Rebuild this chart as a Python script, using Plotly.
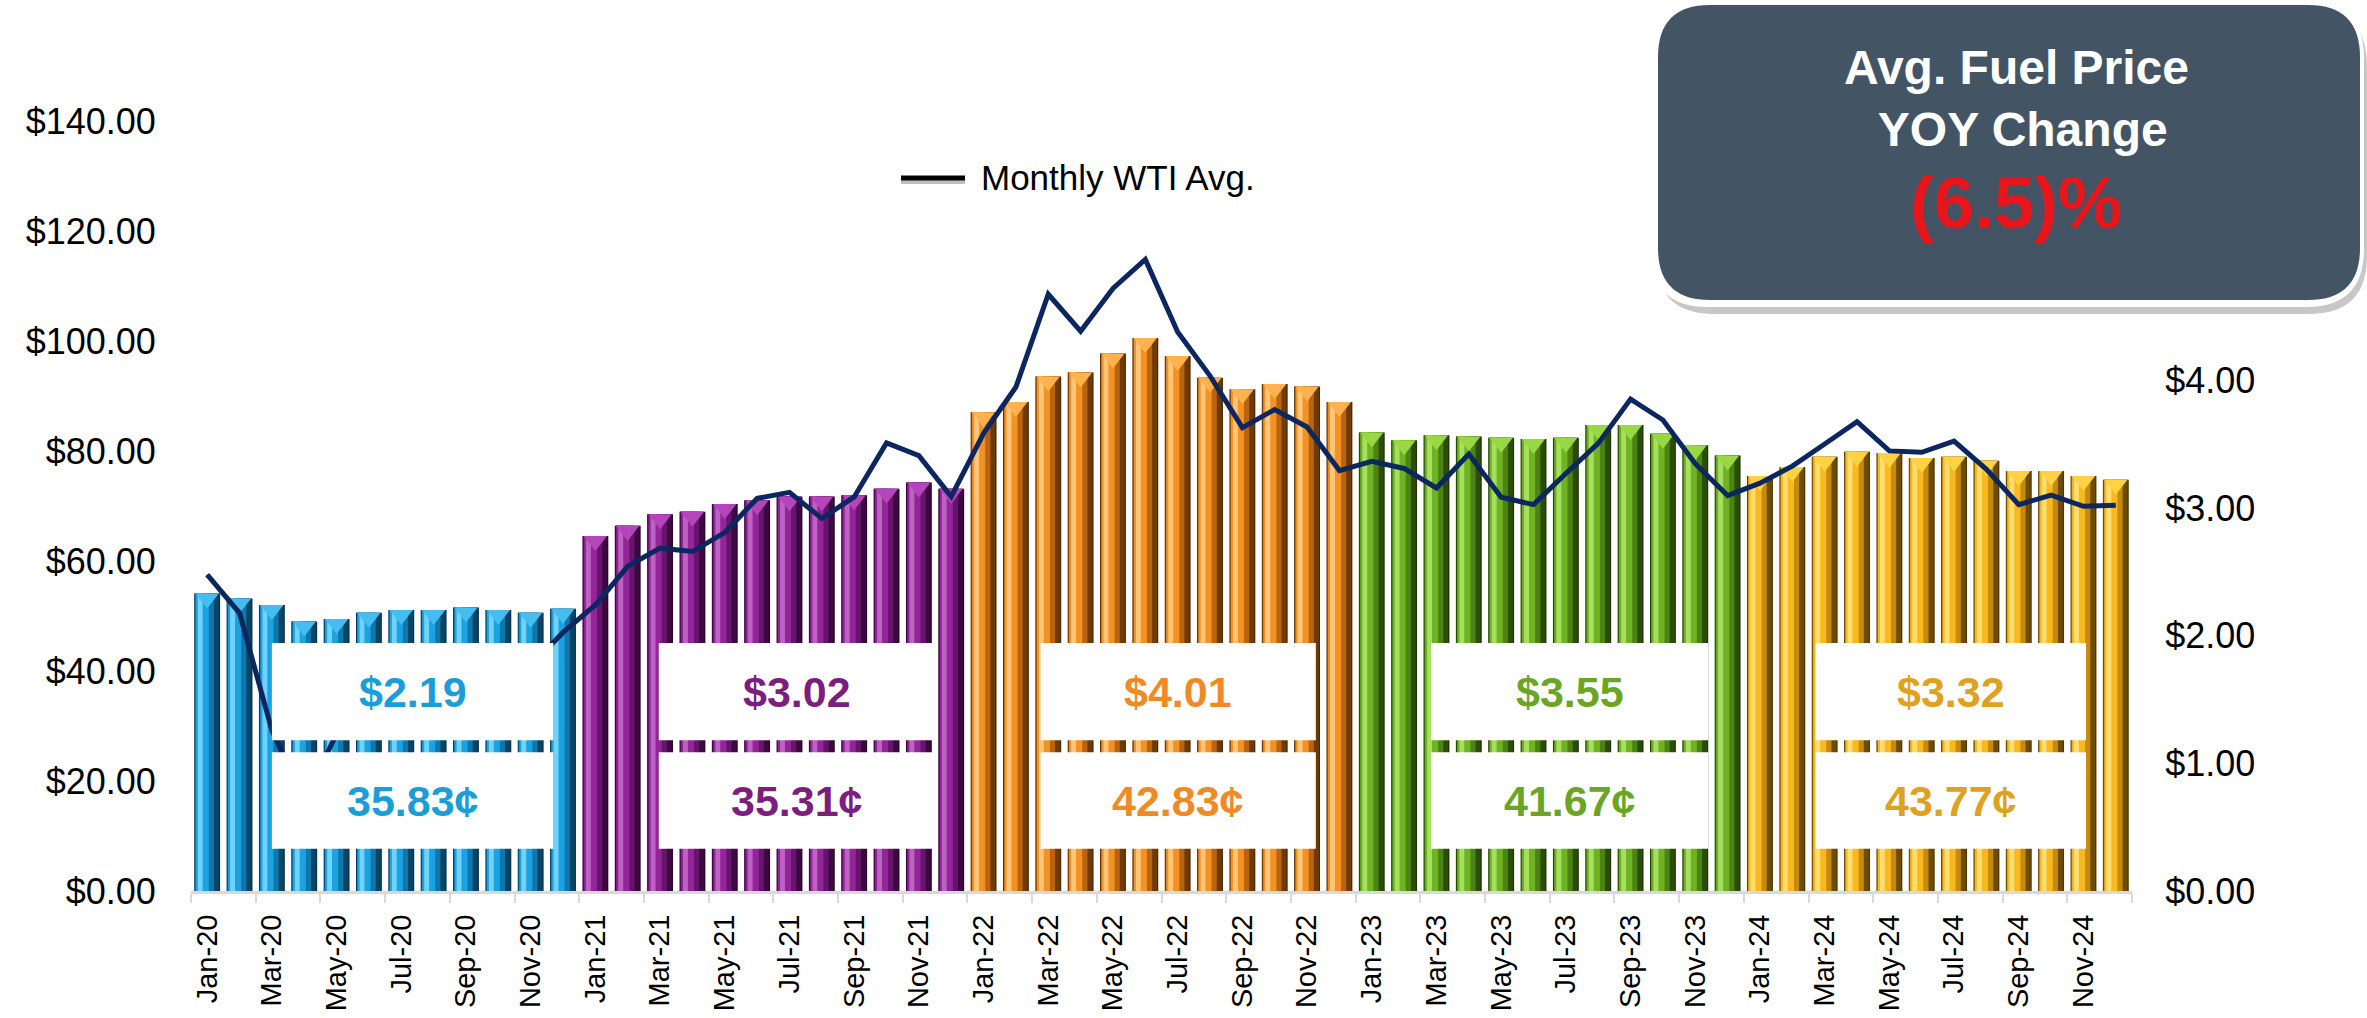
import plotly.graph_objects as go

# ---------------- data ----------------
month_names = ["Jan", "Feb", "Mar", "Apr", "May", "Jun", "Jul", "Aug", "Sep", "Oct", "Nov", "Dec"]
years = ["20", "21", "22", "23", "24"]

fuel_2020 = [2.33, 2.29, 2.24, 2.11, 2.13, 2.18, 2.20, 2.20, 2.22, 2.20, 2.18, 2.21]
fuel_2021 = [2.78, 2.86, 2.95, 2.97, 3.03, 3.06, 3.09, 3.09, 3.10, 3.15, 3.20, 3.15]
fuel_2022 = [3.75, 3.83, 4.03, 4.06, 4.21, 4.33, 4.19, 4.02, 3.93, 3.97, 3.95, 3.83]
fuel_2023 = [3.59, 3.53, 3.57, 3.56, 3.55, 3.54, 3.55, 3.65, 3.65, 3.58, 3.49, 3.41]
fuel_2024 = [3.25, 3.32, 3.40, 3.44, 3.43, 3.39, 3.40, 3.37, 3.29, 3.29, 3.25, 3.22]

wti_2020 = [57.52, 50.54, 29.21, 16.55, 28.56, 38.31, 40.71, 42.34, 39.63, 39.40, 40.94, 47.02]
wti_2021 = [52.00, 59.04, 62.33, 61.72, 65.17, 71.38, 72.49, 67.73, 71.65, 81.48, 79.15, 71.71]
wti_2022 = [83.22, 91.64, 108.50, 101.78, 109.55, 114.84, 101.62, 93.67, 84.26, 87.55, 84.37, 76.44]
wti_2023 = [78.12, 76.83, 73.28, 79.45, 71.58, 70.25, 75.92, 81.39, 89.43, 85.64, 77.69, 71.90]
wti_2024 = [74.15, 77.25, 81.28, 85.35, 80.02, 79.77, 81.80, 76.68, 70.24, 71.99, 69.95, 70.12]

year_avg_price = ["$2.19", "$3.02", "$4.01", "$3.55", "$3.32"]
year_avg_cents = ["35.83¢", "35.31¢", "42.83¢", "41.67¢", "43.77¢"]

left_tick_values = [0, 20, 40, 60, 80, 100, 120, 140]
right_tick_values = [0, 1, 2, 3, 4]

yoy_title = "Avg. Fuel Price<br> YOY Change"
yoy_value = "(6.5)%"
legend_name = "Monthly WTI Avg."

# ---------------- derived ----------------
fuel_by_year = [fuel_2020, fuel_2021, fuel_2022, fuel_2023, fuel_2024]
wti_by_year = [wti_2020, wti_2021, wti_2022, wti_2023, wti_2024]
labels = [f"{m}-{y}" for y in years for m in month_names]
fuel = [v for ys in fuel_by_year for v in ys]
wti = [v for ys in wti_by_year for v in ys]
x = list(range(len(labels)))
year_idx = [i // 12 for i in x]

# ---------------- styles ----------------
FONT = "Arial, 'Liberation Sans', sans-serif"
palettes = [
    dict(edge="#06334D", dark="#0A4565", mid="#0F77AB", main="#1CA2E0", hl="#6FD2F6", cap="#45BDF0", text="#1B9DD9"),
    dict(edge="#2C062F", dark="#3C0940", mid="#66146C", main="#93249A", hl="#BC62C1", cap="#B545BA", text="#7B1E7E"),
    dict(edge="#4F2A04", dark="#6E3B06", mid="#BA640E", main="#F39224", hl="#FFC67A", cap="#FFB24E", text="#F08A24"),
    dict(edge="#1F3705", dark="#2C4D07", mid="#4C8413", main="#6FB224", hl="#A6DE60", cap="#99D842", text="#6BA525"),
    dict(edge="#4F3703", dark="#6E4C05", mid="#C68A0C", main="#F8B920", hl="#FFDD70", cap="#FFD243", text="#DFA11E"),
]

W, H = 2367, 1018
PL, PR, PT, PB = 191, 2132, 121, 891  # plot area in pixels
Y_RIGHT_MAX = 6.03
Y_LEFT_MAX = 140


def px2paper(px, py):
    return (px - PL) / (PR - PL), (PB - py) / (PB - PT)


def rrect_path(x0, y0, x1, y1, r):
    def P(a, b):
        u, v = px2paper(a, b)
        return f"{u:.5f},{v:.5f}"
    pts = [
        f"M{P(x0 + r, y0)}", f"L{P(x1 - r, y0)}", f"Q{P(x1, y0)} {P(x1, y0 + r)}",
        f"L{P(x1, y1 - r)}", f"Q{P(x1, y1)} {P(x1 - r, y1)}",
        f"L{P(x0 + r, y1)}", f"Q{P(x0, y1)} {P(x0, y1 - r)}",
        f"L{P(x0, y0 + r)}", f"Q{P(x0, y0)} {P(x0 + r, y0)}", "Z",
    ]
    return " ".join(pts)


fig = go.Figure()

# bars with layered shading (cylinder look)
layers = [(-0.40, 0.80, "edge"), (-0.38, 0.74, "dark"), (-0.37, 0.58, "mid"),
          (-0.35, 0.40, "main"), (-0.29, 0.15, "hl")]
for off, wid, key in layers:
    fig.add_trace(go.Bar(
        x=x, y=fuel, width=wid, offset=off,
        marker=dict(color=[palettes[k][key] for k in year_idx], line=dict(width=0)),
        yaxis="y", showlegend=False, hoverinfo="skip",
    ))

# triangular bevel caps at bar tops
cap_size = 20
cap_shift = (cap_size / 4) / ((PB - PT) / Y_RIGHT_MAX)
fig.add_trace(go.Scatter(
    x=x, y=[v - cap_shift for v in fuel], mode="markers",
    marker=dict(symbol="triangle-down", size=cap_size,
                color=[palettes[k]["cap"] for k in year_idx], line=dict(width=0)),
    yaxis="y", showlegend=False, hoverinfo="skip",
))

# WTI line on left axis (overlaying axis so it draws above bars)
fig.add_trace(go.Scatter(
    x=x, y=wti, mode="lines", name=legend_name,
    line=dict(color="#0C2660", width=5),
    yaxis="y2", showlegend=False,
))

shapes = []
annotations = []

# white label boxes per year
box_x = [(2.0, 10.7), (13.96, 22.48), (25.76, 34.27), (37.83, 46.40), (49.72, 58.08)]
top_rect = (1.18, 1.943)
bot_rect = (0.331, 1.086)
for k, (bx0, bx1) in enumerate(box_x):
    for (ry0, ry1) in (top_rect, bot_rect):
        shapes.append(dict(type="rect", xref="x", yref="y", x0=bx0, x1=bx1, y0=ry0, y1=ry1,
                           fillcolor="white", line=dict(width=0), layer="above"))
    cx = (bx0 + bx1) / 2
    annotations.append(dict(x=cx, y=sum(top_rect) / 2, xref="x", yref="y", text=f"<b>{year_avg_price[k]}</b>",
                            showarrow=False, font=dict(family=FONT, size=43, color=palettes[k]["text"])))
    annotations.append(dict(x=cx, y=sum(bot_rect) / 2, xref="x", yref="y", text=f"<b>{year_avg_cents[k]}</b>",
                            showarrow=False, font=dict(family=FONT, size=43, color=palettes[k]["text"])))

# YOY callout box (shadow, white border, dark fill)
shapes.append(dict(type="path", xref="paper", yref="paper", path=rrect_path(1656, 8, 2367, 314, 58),
                   fillcolor="rgba(0,0,0,0.22)", line=dict(width=0), layer="above"))
shapes.append(dict(type="path", xref="paper", yref="paper", path=rrect_path(1650, 0, 2364, 307, 58),
                   fillcolor="white", line=dict(width=0), layer="above"))
shapes.append(dict(type="path", xref="paper", yref="paper", path=rrect_path(1658, 5, 2360, 300, 52),
                   fillcolor="#435565", line=dict(width=0), layer="above"))
tx, ty = px2paper(2016, 98)
annotations.append(dict(x=tx, y=ty, xref="paper", yref="paper", text=f"<b>{yoy_title}</b>", showarrow=False,
                        xanchor="center", yanchor="middle", align="center",
                        font=dict(family=FONT, size=48, color="white")))
vx, vy = px2paper(2016, 203)
annotations.append(dict(x=vx, y=vy, xref="paper", yref="paper", text=f"<b>{yoy_value}</b>", showarrow=False,
                        xanchor="center", yanchor="middle",
                        font=dict(family=FONT, size=72, color="#E8161B")))

# legend (manual)
lx0, ly = px2paper(901, 178)
lx1, _ = px2paper(965, 178)
shapes.append(dict(type="line", xref="paper", yref="paper", x0=lx0, x1=lx1, y0=ly - 0.004, y1=ly - 0.004,
                   line=dict(color="rgba(0,0,0,0.25)", width=6), layer="above"))
shapes.append(dict(type="line", xref="paper", yref="paper", x0=lx0, x1=lx1, y0=ly, y1=ly,
                   line=dict(color="black", width=5), layer="above"))
tlx, tly = px2paper(979, 178)
annotations.append(dict(x=tlx, y=tly, xref="paper", yref="paper", text=legend_name, showarrow=False,
                        xanchor="left", yanchor="middle", font=dict(family=FONT, size=35, color="black")))

fig.update_layout(
    width=W, height=H,
    margin=dict(l=PL, r=W - PR, t=PT, b=H - PB, pad=0, autoexpand=False),
    paper_bgcolor="white", plot_bgcolor="white",
    barmode="overlay",
    showlegend=False,
    font=dict(family=FONT, color="black"),
    shapes=shapes,
    annotations=annotations,
    xaxis=dict(
        range=[-0.5, len(x) - 0.5], automargin=False,
        tickmode="array", tickvals=x[::2], ticktext=labels[::2],
        tickangle=-90, tickfont=dict(family=FONT, size=29, color="black"),
        ticks="outside", ticklen=9, tickcolor="rgba(0,0,0,0)",
        showline=True, linecolor="#D9D9D9", linewidth=3,
        showgrid=False, zeroline=False,
        minor=dict(tickmode="array", tickvals=[i - 0.5 for i in range(0, len(x) + 1, 2)],
                   ticks="outside", ticklen=9, tickwidth=2, tickcolor="#D9D9D9", showgrid=False),
    ),
    yaxis=dict(
        side="right", range=[0, Y_RIGHT_MAX], automargin=False,
        tickmode="array", tickvals=right_tick_values,
        ticktext=[f"${v:.2f}" for v in right_tick_values],
        tickfont=dict(family=FONT, size=36, color="black"),
        ticks="outside", ticklen=25, tickcolor="rgba(0,0,0,0)",
        showgrid=False, zeroline=False, showline=False,
    ),
    yaxis2=dict(
        overlaying="y", side="left", range=[0, Y_LEFT_MAX], automargin=False,
        tickmode="array", tickvals=left_tick_values,
        ticktext=[f"${v:.2f}" for v in left_tick_values],
        tickfont=dict(family=FONT, size=36, color="black"),
        ticks="outside", ticklen=27, tickcolor="rgba(0,0,0,0)",
        showgrid=False, zeroline=False, showline=False,
    ),
)

fig.write_html("out.html", config={"displayModeBar": False},
               post_script="document.body.style.margin='0';document.body.style.overflow='hidden';")
